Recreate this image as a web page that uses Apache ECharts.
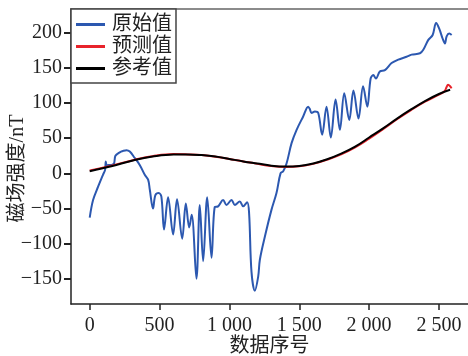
<!DOCTYPE html>
<html>
<head>
<meta charset="utf-8">
<script src="https://cdn.jsdelivr.net/npm/echarts@6/dist/echarts.min.js"></script>
<style>html,body{margin:0;padding:0;background:#fff}#c{width:468px;height:356px}</style>
</head>
<body>
<div id="c"></div>
<script>
// Data
const seriesNames = ['原始值', '预测值', '参考值'];
const xTicks = [0, 500, 1000, 1500, 2000, 2500];
const yTicks = [-150, -100, -50, 0, 50, 100, 150, 200];

const rawX = [0, 24, 60, 95, 110, 115, 122, 130, 155, 174, 184, 215, 240, 263, 287, 322, 358, 394, 418, 430, 453, 470, 494, 513, 532, 561, 597, 625, 662, 688, 712, 730, 764, 788, 812, 841, 872, 895, 919, 955, 979, 1015, 1039, 1074, 1098, 1127, 1141, 1158, 1182, 1206, 1218, 1254, 1301, 1337, 1366, 1385, 1409, 1445, 1481, 1528, 1564, 1575, 1588, 1612, 1636, 1664, 1695, 1726, 1760, 1791, 1822, 1858, 1888, 1924, 1957, 1987, 2011, 2030, 2049, 2077, 2113, 2161, 2209, 2268, 2304, 2364, 2388, 2424, 2455, 2480, 2502, 2526, 2543, 2555, 2574, 2591];
const rawY = [-63, -38, -19, -2, 5, 17, 10, 12, 12, 14, 25, 30, 32, 33, 31, 22, 12, -2, -9, -23, -50, -31, -28, -33, -80, -34, -87, -37, -93, -43, -77, -59, -150, -45, -125, -34, -120, -48, -47, -38, -45, -38, -45, -40, -47, -41, -57, -140, -167, -147, -123, -90, -52, -28, 0, 3, 14, 43, 62, 81, 95, 92, 86, 88, 86, 55, 95, 51, 105, 62, 114, 76, 118, 78, 124, 95, 135, 140, 135, 145, 147, 157, 162, 166, 169, 171, 176, 190, 197, 214, 206, 192, 185, 195, 199, 197];

const refX = [0, 155, 322, 450, 600, 700, 800, 900, 1000, 1100, 1200, 1300, 1400, 1500, 1600, 1700, 1800, 1900, 2000, 2100, 2200, 2300, 2400, 2500, 2580];
const refY = [3, 10, 19, 24, 27, 27, 26, 24, 20.5, 17, 14, 11, 9.7, 10.5, 14, 20, 28, 38, 51, 64, 78, 91, 103, 113, 119];

const predX = [0, 155, 322, 450, 600, 700, 800, 900, 1000, 1100, 1200, 1300, 1400, 1500, 1600, 1700, 1800, 1900, 2000, 2100, 2200, 2300, 2400, 2500, 2540, 2555, 2565, 2580, 2590];
const predY = [4, 11, 19.5, 24.5, 27.5, 27, 26, 23.5, 20.5, 17, 13.5, 10.5, 9, 10, 13.5, 19.5, 27, 37, 49.5, 63, 77, 90, 102, 112, 117, 123, 126, 124, 121];

function pairs(xs, ys) { return xs.map((x, i) => [x, ys[i]]); }

const serifCJK = '"Liberation Serif", "Noto Sans CJK SC", serif';
const chart = echarts.init(document.getElementById('c'), null, {renderer: 'canvas'});
chart.setOption({
  animation: false,
  backgroundColor: '#fff',
  grid: {left: 71, top: 9, right: 0, bottom: 52, containLabel: false, outerBoundsMode: 'none'},
  legend: {
    data: seriesNames,
    orient: 'vertical',
    left: 71, top: 9,
    padding: [5, 4, 4, 5],
    itemGap: 1,
    itemWidth: 29, itemHeight: 3,
    icon: 'rect',
    backgroundColor: '#fff',
    borderColor: '#444', borderWidth: 1.5, borderRadius: 0,
    textStyle: {fontFamily: serifCJK, fontSize: 20, color: '#222', lineHeight: 21, padding: [0, 0, 0, 2]}
  },
  xAxis: [{
    type: 'value', min: -134, max: 2708,
    name: '数据序号', nameLocation: 'middle', nameGap: 33, nameMoveOverlap: false,
    nameTextStyle: {fontFamily: serifCJK, fontSize: 20, color: '#222'},
    splitLine: {show: false},
    axisLine: {show: true, onZero: false, lineStyle: {color: '#222', width: 1.5}},
    axisTick: {show: true, customValues: xTicks, length: 6, lineStyle: {color: '#222', width: 1.5}},
    axisLabel: {customValues: xTicks, margin: 12, fontFamily: serifCJK, fontSize: 20, color: '#222',
      formatter: v => { const s = String(v); return s.length > 3 ? s.slice(0, s.length - 3) + ' ' + s.slice(-3) : s; }}
  }, {
    type: 'value', position: 'top', min: -134, max: 2708,
    axisLine: {show: true, onZero: false, lineStyle: {color: '#666', width: 1.5}},
    axisTick: {show: false}, axisLabel: {show: false}, splitLine: {show: false}
  }],
  yAxis: {
    type: 'value', min: -186, max: 234,
    name: '磁场强度/nT', nameLocation: 'middle', nameGap: 43, nameMoveOverlap: false,
    nameTextStyle: {fontFamily: serifCJK, fontSize: 20, color: '#222', padding: [0, 24, 0, 0]},
    splitLine: {show: false},
    axisLine: {show: true, onZero: false, lineStyle: {color: '#222', width: 1.5}},
    axisTick: {show: true, customValues: yTicks, length: 7, lineStyle: {color: '#222', width: 2}},
    axisLabel: {customValues: yTicks, margin: 9, fontFamily: serifCJK, fontSize: 20, color: '#222',
      formatter: v => v < 0 ? '\u2212' + Math.abs(v) : String(v)}
  },
  series: [
    {name: seriesNames[0], type: 'line', data: pairs(rawX, rawY), showSymbol: false, smooth: 0.35,
     lineStyle: {color: '#2c58b0', width: 2}, itemStyle: {color: '#2c58b0'}, z: 2},
    {name: seriesNames[1], type: 'line', data: pairs(predX, predY), showSymbol: false, smooth: 0.4,
     lineStyle: {color: '#e8232b', width: 2}, itemStyle: {color: '#e8232b'}, z: 3},
    {name: seriesNames[2], type: 'line', data: pairs(refX, refY), showSymbol: false, smooth: 0.4,
     lineStyle: {color: '#000', width: 2}, itemStyle: {color: '#000'}, z: 4}
  ]
});
</script>
</body>
</html>
